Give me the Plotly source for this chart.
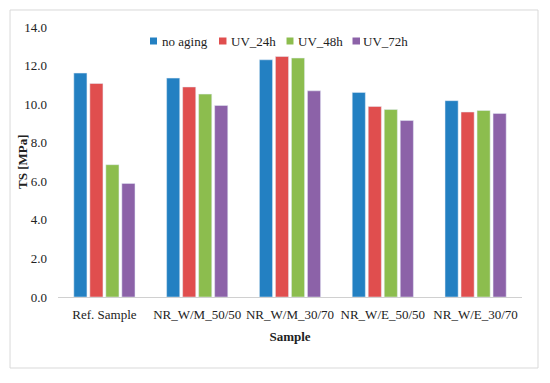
import plotly.graph_objects as go

categories = ["Ref. Sample", "NR_W/M_50/50", "NR_W/M_30/70", "NR_W/E_50/50", "NR_W/E_30/70"]
no_aging = [11.61, 11.35, 12.30, 10.61, 10.18]
uv_24h = [11.07, 10.89, 12.47, 9.88, 9.59]
uv_48h = [6.86, 10.52, 12.39, 9.72, 9.67]
uv_72h = [5.89, 9.93, 10.69, 9.15, 9.52]
y_ticks = [0, 2, 4, 6, 8, 10, 12, 14]

series = [
    ("no aging", no_aging, "#2380C2"),
    ("UV_24h", uv_24h, "#E04E4E"),
    ("UV_48h", uv_48h, "#8CBD4E"),
    ("UV_72h", uv_72h, "#8C62A8"),
]
# legend item positions (paper coordinates)
legend_sq_x = [(0.1983, 0.2134), (0.3470, 0.3631), (0.4925, 0.5075), (0.6347, 0.6509)]
legend_txt_x = [0.2198, 0.3685, 0.5129, 0.6530]

font_family = "Liberation Serif"

fig = go.Figure()
shapes = [dict(type="rect", xref="paper", yref="paper",
               x0=-0.1034, x1=1.0345, y0=-0.263, y1=1.063,
               line=dict(color="#D9D9D9", width=1), fillcolor="rgba(0,0,0,0)")]
annotations = []
for i, (name, vals, color) in enumerate(series):
    fig.add_trace(go.Bar(x=categories, y=vals, name=name, marker_color=color, showlegend=False))
    x0, x1 = legend_sq_x[i]
    shapes.append(dict(type="rect", xref="paper", yref="paper", x0=x0, x1=x1,
                       y0=0.9352, y1=0.9611, line=dict(width=0), fillcolor=color))
    annotations.append(dict(text=name, xref="paper", yref="paper", x=legend_txt_x[i],
                            y=0.948, xanchor="left", yanchor="middle", showarrow=False,
                            font=dict(size=13, family=font_family, color="#222")))

# y-axis title
annotations.append(dict(text="<b>TS [MPa]</b>", xref="paper", yref="paper",
                        x=(22 - 58) / 464, y=0.5, xanchor="center", yanchor="middle",
                        textangle=-90, showarrow=False,
                        font=dict(size=13, family=font_family, color="#222")))

fig.update_layout(
    width=550, height=383,
    margin=dict(l=58, r=28, t=27, b=86),
    paper_bgcolor="white", plot_bgcolor="white",
    font=dict(family=font_family, size=13, color="#222"),
    barmode="group", bargap=0.31, bargroupgap=0.18,
    showlegend=False,
    xaxis=dict(showline=True, linecolor="#D0D0D0", linewidth=1, ticks="", showgrid=False,
               automargin=False, tickangle=0, ticklabelstandoff=5,
               title=dict(text="<b>Sample</b>", font=dict(size=13), standoff=11),
               tickfont=dict(size=13)),
    yaxis=dict(range=[0, 14], tickvals=y_ticks, tickformat=".1f", showgrid=False,
               zeroline=False, showline=False, ticks="", automargin=False,
               ticklabelstandoff=10,
               tickfont=dict(size=13)),
    shapes=shapes,
    annotations=annotations,
)

fig.write_html("out.html", config={"displayModeBar": False},
               post_script="document.body.style.margin='0';")
